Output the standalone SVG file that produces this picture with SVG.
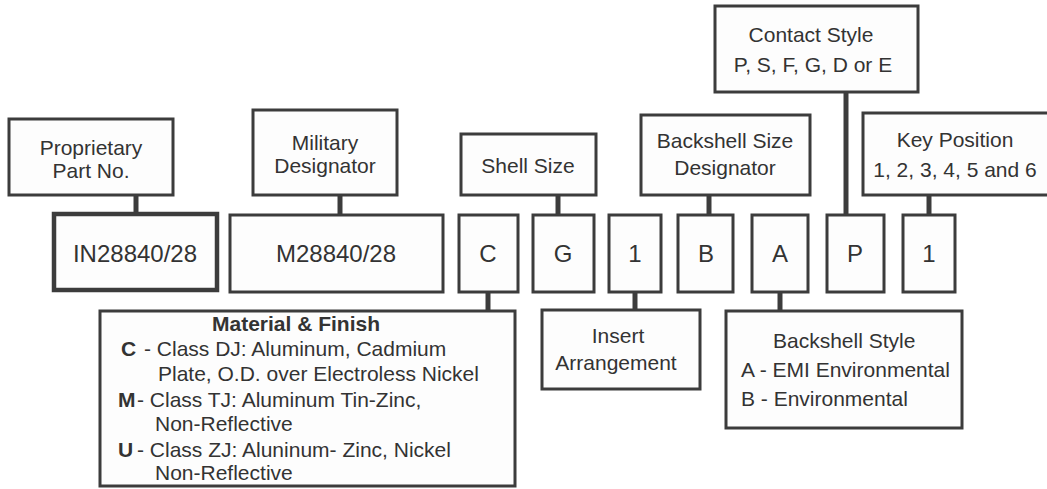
<svg xmlns="http://www.w3.org/2000/svg" width="1047" height="489" viewBox="0 0 1047 489">
<style>
.b{fill:#fdfdfd;stroke:#3c3c3c;stroke-width:3}
.t{font-family:"Liberation Sans",Arial,sans-serif;font-size:21px;fill:#333}
.c{text-anchor:middle}
.big{font-size:24px}
.bold{font-weight:bold}
.ln{stroke:#3c3c3c;stroke-width:5;fill:none}
</style>
<rect width="1047" height="489" fill="#fff"/>
<g id="connectors">
<line class="ln" x1="136" y1="195" x2="136" y2="214"/>
<line class="ln" x1="340" y1="195" x2="340" y2="215"/>
<line class="ln" x1="558" y1="195" x2="558" y2="215"/>
<line class="ln" x1="709" y1="195" x2="709" y2="215"/>
<line class="ln" x1="846" y1="92" x2="846" y2="215"/>
<line class="ln" x1="929" y1="195" x2="929" y2="215"/>
<line class="ln" x1="488" y1="292" x2="488" y2="311"/>
<line class="ln" x1="635" y1="292" x2="635" y2="310"/>
<line class="ln" x1="780" y1="292" x2="780" y2="311"/>
</g>
<g id="proprietary">
<rect class="b" x="9" y="119" width="164" height="76"/>
<text class="t c" x="91" y="155">Proprietary</text>
<text class="t c" x="91" y="178">Part No.</text>
</g>
<g id="military">
<rect class="b" x="253" y="110" width="144" height="85"/>
<text class="t c" x="325" y="150">Military</text>
<text class="t c" x="325" y="173">Designator</text>
</g>
<g id="shellsize">
<rect class="b" x="461" y="134" width="135" height="61"/>
<text class="t c" x="528" y="173">Shell Size</text>
</g>
<g id="backshellsize">
<rect class="b" x="641" y="115" width="169" height="80"/>
<text class="t c" x="725" y="148">Backshell Size</text>
<text class="t c" x="725" y="175">Designator</text>
</g>
<g id="contactstyle">
<rect class="b" x="715" y="6" width="203" height="86"/>
<text class="t c" x="811" y="42">Contact Style</text>
<text class="t c" x="813" y="72">P, S, F, G, D or E</text>
</g>
<g id="keyposition">
<rect class="b" x="863" y="113" width="190" height="82"/>
<text class="t c" x="955" y="147">Key Position</text>
<text class="t c" x="955" y="177">1, 2, 3, 4, 5 and 6</text>
</g>
<g id="in28840">
<rect class="b" x="54" y="214" width="163" height="76" style="stroke-width:4.5"/>
<text class="t c big" x="135" y="262">IN28840/28</text>
</g>
<g id="m28840">
<rect class="b" x="230" y="215" width="213" height="77"/>
<text class="t c big" x="336" y="262">M28840/28</text>
</g>
<g id="c">
<rect class="b" x="459" y="215" width="59" height="77"/>
<text class="t c big" x="488" y="262">C</text>
</g>
<g id="g">
<rect class="b" x="533" y="215" width="61" height="77"/>
<text class="t c big" x="563" y="262">G</text>
</g>
<g id="one">
<rect class="b" x="609" y="215" width="52" height="77"/>
<text class="t c big" x="635" y="262">1</text>
</g>
<g id="b">
<rect class="b" x="678" y="215" width="55" height="77"/>
<text class="t c big" x="706" y="262">B</text>
</g>
<g id="a">
<rect class="b" x="752" y="215" width="56" height="77"/>
<text class="t c big" x="780" y="262">A</text>
</g>
<g id="p">
<rect class="b" x="827" y="215" width="57" height="77"/>
<text class="t c big" x="855" y="262">P</text>
</g>
<g id="keyone">
<rect class="b" x="903" y="215" width="52" height="77"/>
<text class="t c big" x="929" y="262">1</text>
</g>
<g id="material">
<rect class="b" x="100" y="311" width="415" height="175"/>
<text class="t bold" x="212" y="331">Material &amp; Finish</text>
<text class="t bold" x="121" y="356">C</text>
<text class="t" x="144" y="356">- Class DJ: Aluminum, Cadmium</text>
<text class="t" x="158" y="381">Plate, O.D. over Electroless Nickel</text>
<text class="t bold" x="118" y="407">M</text>
<text class="t" x="137" y="407">- Class TJ: Aluminum Tin-Zinc,</text>
<text class="t" x="155" y="431">Non-Reflective</text>
<text class="t bold" x="118" y="457">U</text>
<text class="t" x="137" y="457">- Class ZJ: Aluninum- Zinc, Nickel</text>
<text class="t" x="155" y="480">Non-Reflective</text>
</g>
<g id="insert">
<rect class="b" x="542" y="310" width="158" height="79"/>
<text class="t c" x="618" y="343">Insert</text>
<text class="t c" x="616" y="370">Arrangement</text>
</g>
<g id="backshellstyle">
<rect class="b" x="726" y="311" width="236" height="117"/>
<text class="t" x="773" y="348">Backshell Style</text>
<text class="t" x="741" y="377">A - EMI Environmental</text>
<text class="t" x="741" y="406">B - Environmental</text>
</g>
</svg>
